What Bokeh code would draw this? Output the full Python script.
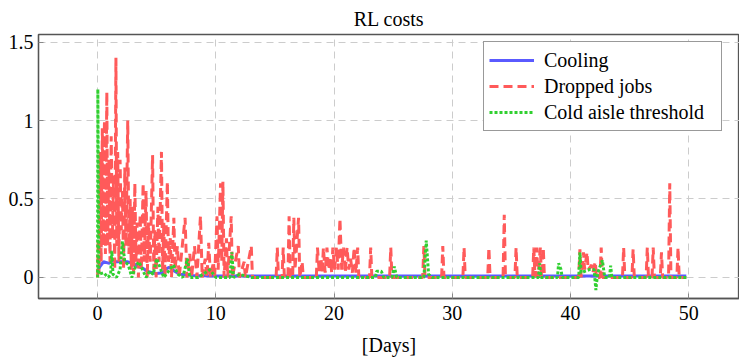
from bokeh.plotting import figure
from bokeh.models import Range1d, FixedTicker, NumeralTickFormatter, Legend, LegendItem
from bokeh.embed import file_html
from bokeh.resources import INLINE

# ---------------- data ----------------
title_text = "RL costs"
x_ticks = [0, 10, 20, 30, 40, 50]
y_ticks = [0, 0.5, 1, 1.5]
series_names = ["Cooling", "Dropped jobs", "Cold aisle threshold"]

cool_days = [0.0, 0.2, 0.5, 1.0, 1.2, 1.5, 2.0, 2.5, 3.0, 3.4,
             3.8, 4.2, 4.6, 5.0, 5.5, 5.9, 6.1, 6.5, 7.0, 8.0,
             10.0, 20.0, 30.0, 40.0, 49.8]
cool_vals = [0.04, 0.07, 0.10, 0.09, 0.11, 0.10, 0.10, 0.10, 0.09, 0.07,
             0.06, 0.04, 0.03, 0.025, 0.03, 0.06, 0.065, 0.04, 0.02, 0.012,
             0.01, 0.01, 0.01, 0.01, 0.01]

drop_days = [0.00, 0.05, 0.12, 0.22, 0.30, 0.40, 0.50, 0.58,
             0.66, 0.78, 0.85, 0.95, 1.05, 1.15, 1.25, 1.35,
             1.45, 1.55, 1.62, 1.70, 1.80, 1.90, 2.00, 2.10,
             2.20, 2.30, 2.40, 2.55, 2.65, 2.75, 2.85, 2.95,
             3.05, 3.15, 3.25, 3.35, 3.45, 3.60, 3.70, 3.85,
             3.95, 4.10, 4.20, 4.30, 4.45, 4.65, 4.75, 4.85,
             4.95, 5.10, 5.20, 5.40, 5.50, 5.60, 5.70, 5.90,
             6.00, 6.15, 6.25, 6.45, 6.55, 6.75, 6.90, 7.40,
             7.55, 7.80, 7.95, 8.20, 8.40, 8.70, 8.85, 9.10,
             9.25, 9.40, 9.55, 9.80, 9.90, 10.10, 10.20, 10.40,
             10.50, 10.60, 10.70, 10.90, 11.00, 11.30, 11.40, 11.90,
             12.00, 12.40, 12.50, 13.00, 13.10, 15.10, 15.20, 15.30,
             15.60, 15.70, 15.80, 16.10, 16.20, 16.30, 16.50, 16.60,
             16.70, 17.00, 17.10, 17.30, 17.40, 18.50, 18.60, 18.75,
             18.90, 19.00, 19.10, 19.25, 19.40, 19.55, 19.70, 19.80,
             19.90, 20.05, 20.20, 20.35, 20.50, 20.65, 20.80, 20.95,
             21.10, 21.25, 21.40, 21.55, 21.70, 21.85, 22.00, 22.10,
             23.00, 23.10, 23.20, 24.70, 24.80, 24.90, 27.50, 27.60,
             27.70, 29.10, 29.20, 29.30, 30.90, 31.00, 31.10, 33.00,
             33.10, 33.20, 34.30, 34.40, 34.50, 35.30, 35.40, 35.50,
             36.80, 36.90, 37.00, 37.15, 37.25, 37.45, 37.55, 37.70,
             37.80, 40.70, 40.80, 40.90, 41.10, 41.20, 41.40, 41.50,
             41.80, 41.90, 42.10, 42.20, 42.50, 42.60, 42.70, 44.40,
             44.50, 44.60, 45.20, 45.30, 45.40, 46.40, 46.50, 46.60,
             46.90, 47.00, 47.10, 47.60, 47.70, 47.80, 48.30, 48.40,
             48.50, 49.00, 49.10, 49.20, 49.80]
drop_vals = [0.00, 0.25, 0.02, 0.80, 0.10, 0.95, 0.20, 1.00,
             0.15, 1.18, 0.20, 0.75, 0.10, 0.90, 0.25, 0.65,
             0.05, 1.40, 0.20, 0.80, 0.10, 0.75, 0.30, 0.55,
             0.05, 0.70, 0.20, 1.00, 0.15, 0.50, 0.05, 0.45,
             0.02, 0.60, 0.10, 0.35, 0.00, 0.40, 0.05, 0.60,
             0.10, 0.55, 0.00, 0.35, 0.10, 0.78, 0.05, 0.30,
             0.00, 0.45, 0.10, 0.80, 0.05, 0.35, 0.00, 0.61,
             0.10, 0.25, 0.00, 0.38, 0.05, 0.20, 0.00, 0.38,
             0.00, 0.15, 0.00, 0.20, 0.00, 0.39, 0.00, 0.12,
             0.00, 0.22, 0.00, 0.10, 0.00, 0.39, 0.05, 0.60,
             0.10, 0.61, 0.00, 0.25, 0.00, 0.39, 0.00, 0.20,
             0.00, 0.10, 0.00, 0.20, 0.00, 0.00, 0.19, 0.00,
             0.00, 0.19, 0.00, 0.00, 0.39, 0.00, 0.00, 0.38,
             0.05, 0.38, 0.00, 0.10, 0.00, 0.00, 0.19, 0.03,
             0.12, 0.03, 0.19, 0.03, 0.19, 0.05, 0.12, 0.03,
             0.19, 0.05, 0.19, 0.05, 0.375, 0.05, 0.19, 0.03,
             0.19, 0.05, 0.12, 0.03, 0.19, 0.03, 0.19, 0.00,
             0.00, 0.19, 0.00, 0.00, 0.19, 0.00, 0.00, 0.20,
             0.00, 0.00, 0.20, 0.00, 0.00, 0.19, 0.00, 0.00,
             0.19, 0.00, 0.00, 0.40, 0.00, 0.00, 0.19, 0.00,
             0.00, 0.19, 0.00, 0.19, 0.00, 0.19, 0.00, 0.19,
             0.00, 0.00, 0.18, 0.00, 0.16, 0.05, 0.16, 0.05,
             0.08, 0.03, 0.10, 0.00, 0.00, 0.19, 0.00, 0.00,
             0.19, 0.00, 0.00, 0.18, 0.00, 0.00, 0.19, 0.00,
             0.00, 0.19, 0.00, 0.00, 0.16, 0.00, 0.00, 0.60,
             0.00, 0.00, 0.19, 0.00, 0.00]

cold_days = [0.00, 0.02, 0.10, 0.50, 0.90, 1.10, 1.20, 1.30, 1.60, 1.90,
             2.10, 2.30, 2.60, 2.90, 3.20, 3.50, 3.80, 4.10, 4.40, 4.70,
             5.00, 5.30, 5.60, 6.00, 6.40, 6.80, 7.20, 7.60, 7.80, 8.50,
             9.50, 10.00, 11.20, 11.35, 11.50, 12.00, 13.00, 23.50, 23.60, 24.00,
             24.20, 24.90, 25.10, 25.30, 27.60, 27.80, 28.00, 28.30, 37.30, 37.40,
             37.50, 38.90, 39.00, 39.20, 39.30, 40.70, 40.80, 40.90, 41.60, 42.00,
             42.15, 42.30, 42.70, 42.90, 43.30, 43.40, 43.50, 49.80]
cold_vals = [0.00, 1.20, 0.02, 0.03, 0.00, 0.02, 0.17, 0.02, 0.00, 0.05,
             0.23, 0.10, 0.08, 0.00, 0.07, 0.10, 0.05, 0.00, 0.04, 0.02,
             0.12, 0.06, 0.00, 0.04, 0.08, 0.02, 0.00, 0.12, 0.00, 0.00,
             0.05, 0.00, 0.00, 0.16, 0.00, 0.02, 0.00, 0.00, 0.04, 0.04,
             0.00, 0.00, 0.07, 0.00, 0.00, 0.235, 0.02, 0.00, 0.00, 0.09,
             0.00, 0.00, 0.09, 0.05, 0.00, 0.00, 0.16, 0.03, 0.05, 0.05,
             -0.08, 0.03, 0.11, 0.00, 0.00, 0.075, 0.00, 0.00]

assert len(drop_days) == len(drop_vals)
assert len(cold_days) == len(cold_vals)
assert len(cool_days) == len(cool_vals)

# ---------------- styling ----------------
FONT = "Liberation Serif"
BLUE = "#5a5aff"
RED = "#ff5a5a"
GREEN = "#30d030"
AXIS = "#555555"
GRID = "#cccccc"

p = figure(width=739, height=359, output_backend="svg", toolbar_location=None,
           x_range=Range1d(-5, 54.3), y_range=Range1d(-0.134, 1.548),
           min_border_left=38, min_border_right=0, min_border_top=34,
           min_border_bottom=61)

p.title.text = title_text
p.title.align = "center"
p.title.text_font = FONT
p.title.text_font_size = "20px"
p.title.text_font_style = "normal"
p.title.text_color = "#000000"
p.title.standoff = 9

p.background_fill_color = "white"
p.border_fill_color = "white"
p.outline_line_color = AXIS
p.outline_line_width = 1.3

for ax in (p.xaxis[0], p.yaxis[0]):
    ax.axis_line_color = AXIS
    ax.axis_line_width = 1.3
    ax.major_tick_line_color = "#888888"
    ax.major_tick_in = 5
    ax.major_tick_out = 0
    ax.minor_tick_line_color = None
    ax.major_label_text_font = FONT
    ax.major_label_text_font_size = "20px"
    ax.major_label_text_color = "#000000"

p.xaxis[0].ticker = FixedTicker(ticks=x_ticks)
p.yaxis[0].ticker = FixedTicker(ticks=y_ticks)
p.yaxis[0].formatter = NumeralTickFormatter(format="0.[0]")
p.xaxis[0].major_label_standoff = 7
p.yaxis[0].major_label_standoff = 5

p.xaxis[0].axis_label = "[Days]"
p.xaxis[0].axis_label_text_font = FONT
p.xaxis[0].axis_label_text_font_size = "20px"
p.xaxis[0].axis_label_text_font_style = "normal"
p.xaxis[0].axis_label_text_color = "#000000"
p.xaxis[0].axis_label_standoff = 11

for g in (p.xgrid[0], p.ygrid[0]):
    g.grid_line_color = GRID
    g.grid_line_dash = "7 5"
    g.grid_line_width = 1

r_cool = p.line(cool_days, cool_vals, line_color=BLUE, line_width=3)
r_drop = p.line(drop_days, drop_vals, line_color=RED, line_width=3, line_dash="9 5")
r_cold = p.line(cold_days, cold_vals, line_color=GREEN, line_width=3, line_dash="3 2")

legend = Legend(items=[LegendItem(label=series_names[0], renderers=[r_cool]),
                       LegendItem(label=series_names[1], renderers=[r_drop]),
                       LegendItem(label=series_names[2], renderers=[r_cold])],
                location=(445, 167))
legend.label_text_font = FONT
legend.label_text_font_size = "20px"
legend.label_text_color = "#000000"
legend.glyph_width = 45
legend.glyph_height = 26
legend.label_height = 26
legend.label_width = 172
legend.label_standoff = 10
legend.spacing = 0
legend.padding = 5
legend.margin = 0
legend.border_line_color = "#333333"
legend.border_line_width = 1.2
legend.background_fill_color = "white"
legend.background_fill_alpha = 1.0
p.add_layout(legend)

open("out.html", "w").write(file_html(p, INLINE))
